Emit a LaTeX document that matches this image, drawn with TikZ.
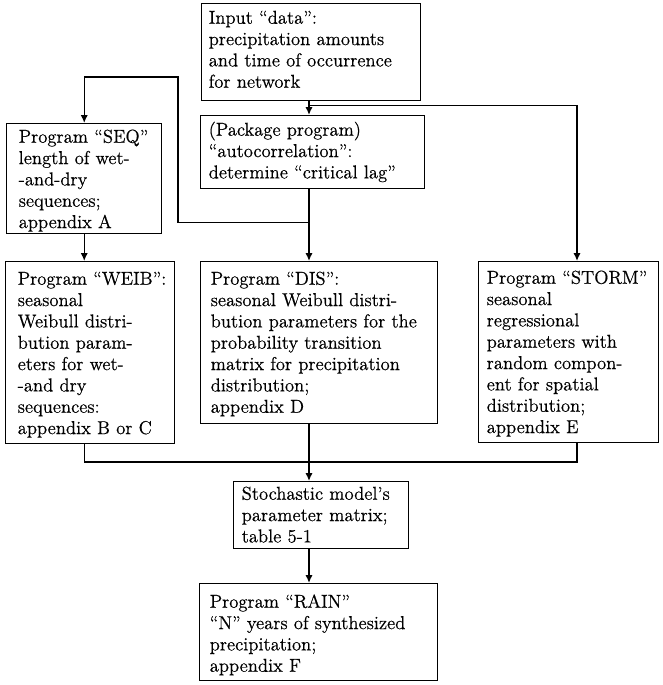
\documentclass[tikz,border=0pt]{standalone}
\usepackage{fontspec}
\setmainfont{Latin Modern Roman}[FakeBold=0.5]
\usetikzlibrary{arrows.meta}
\newcommand\bxt[1]{\begin{tabular}[t]{@{}l@{}}#1\end{tabular}}
\begin{document}
\begin{tikzpicture}[x=0.75pt,y=-0.75pt,
  bx/.style n args={4}{draw, line width=1.1pt, anchor=north west, inner ysep=0pt, align=left,
     font=\fontsize{14}{16}\selectfont, text width=#1, inner xsep=#2, text height=#3, text depth=#4},
  arr/.style={line width=1.1pt, -{Latex[length=6pt,width=5.5pt]}},
  ln/.style={line width=1.1pt}]
\useasboundingbox (0,0) rectangle (663,685);

\node[bx={153.75pt}{5.25pt}{15pt}{57.75pt}] (inp) at (201,3)
  {\bxt{Input “data”:\\precipitation amounts\\and time of occurrence\\for network}};
\node[bx={156pt}{6pt}{15pt}{39.75pt}] (auto) at (200,115)
  {\bxt{(Package program)\\“autocorrelation”:\\determine “critical lag”}};
\node[bx={98.25pt}{9pt}{14.25pt}{68.25pt}] (seq) at (6,123)
  {\bxt{Program “SEQ”\\length of wet-\\-and-dry\\sequences;\\appendix A}};
\node[bx={108.75pt}{9pt}{17.25pt}{119.25pt}] (weib) at (5,261)
  {\bxt{Program “WEIB”:\\seasonal\\Weibull distri-\\bution param-\\eters for wet-\\-and dry\\sequences:\\appendix B or C}};
\node[bx={162.75pt}{7.5pt}{17.25pt}{104.25pt}] (dis) at (200,261)
  {\bxt{Program “DIS”:\\seasonal Weibull distri-\\bution parameters for the\\probability transition\\matrix for precipitation\\distribution;\\appendix D}};
\node[bx={123pt}{6pt}{16.5pt}{119.25pt}] (storm) at (478,261)
  {\bxt{Program “STORM”\\seasonal\\regressional\\parameters with\\random compon-\\ent for spatial\\distribution;\\appendix E}};
\node[bx={119.25pt}{6pt}{13.5pt}{36.75pt}] (stoch) at (233,481)
  {\bxt{Stochastic model’s\\parameter matrix;\\table 5-1}};
\node[bx={163.5pt}{7.5pt}{18pt}{54.75pt}] (rain) at (199,583)
  {\bxt{Program “RAIN”\\“N” years of synthesized\\precipitation;\\appendix F}};

\coordinate (ax) at (309,0);
\coordinate (sx) at (577,0);
\coordinate (lp) at (178,77);
\coordinate (jn) at (309,462);

\draw[arr] (inp.south -| ax) -- (auto.north -| ax);
\draw[arr] (inp.south -| ax) ++(0,4) -| (storm.north -| sx);
\draw[arr] (auto.south -| ax) -- (dis.north -| ax);
\draw[arr] (auto.south -| ax) ++(0,33) -| (lp) -| (seq.north);
\draw[arr] (seq.south) -- (seq.south |- weib.north);
\draw[ln] (weib.south -| seq.south) |- (jn);
\draw[ln] (storm.south -| sx) |- (jn);
\draw[arr] (dis.south -| ax) -- (stoch.north -| ax);
\draw[arr] (stoch.south -| ax) -- (rain.north -| ax);
\end{tikzpicture}
\end{document}
